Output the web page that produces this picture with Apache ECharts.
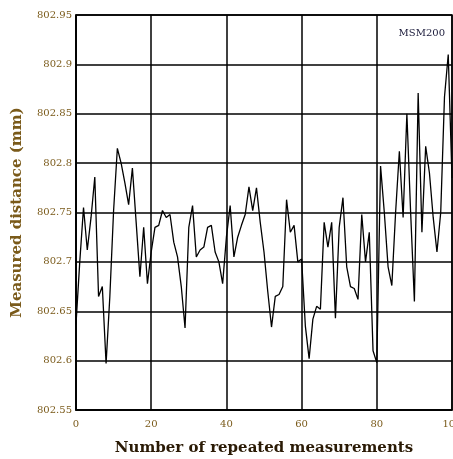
<!DOCTYPE html>
<html><head><meta charset="utf-8">
<script src="https://cdn.jsdelivr.net/npm/echarts@6/dist/echarts.min.js"></script>
<style>html,body{margin:0;padding:0;background:#fff}#c{width:453px;height:459px}</style>
</head><body><div id="c"></div>
<script>
var measurementIndex = [];
for (var k = 0; k <= 100; k++) measurementIndex.push(k);
var measuredDistance = [
802.637,802.70,802.755,802.712,802.745,802.786,802.665,802.675,802.597,802.665,
802.752,802.815,802.80,802.78,802.758,802.795,802.74,802.685,802.735,802.678,
802.71,802.735,802.737,802.752,802.745,802.748,802.72,802.705,802.675,802.633,
802.735,802.757,802.705,802.712,802.715,802.735,802.737,802.71,802.70,802.678,
802.725,802.757,802.705,802.725,802.737,802.748,802.776,802.752,802.775,802.74,
802.71,802.67,802.634,802.665,802.667,802.675,802.763,802.73,802.737,802.70,
802.703,802.635,802.602,802.642,802.655,802.652,802.74,802.715,802.74,802.643,
802.735,802.765,802.695,802.675,802.673,802.662,802.748,802.70,802.73,802.61,
802.598,802.797,802.75,802.695,802.676,802.75,802.812,802.745,802.85,802.75,
802.66,802.871,802.73,802.817,802.79,802.745,802.71,802.75,802.867,802.91,
802.785
];
var xTicks = [0, 20, 40, 60, 80, 100];
var yTicks = [802.55, 802.6, 802.65, 802.7, 802.75, 802.8, 802.85, 802.9, 802.95];
var seriesLabel = 'MSM200';

var pts = measurementIndex.map(function (x, i) { return [x, measuredDistance[i]]; });
var serif = '"DejaVu Serif", "Liberation Serif", serif';
var labelColor = '#7a5a1a';

var chart = echarts.init(document.getElementById('c'));
chart.setOption({
  animation: false,
  backgroundColor: '#fff',
  grid: { left: 76, top: 15, right: 1, bottom: 49, show: true, borderColor: '#000', borderWidth: 1.5,
    outerBoundsMode: 'none', containLabel: false },
  xAxis: {
    type: 'value', min: xTicks[0], max: xTicks[xTicks.length - 1], interval: 20,
    name: 'Number of repeated measurements', nameLocation: 'middle', nameGap: 31,
    nameTextStyle: { fontFamily: serif, fontWeight: 'bold', fontSize: 15, color: '#2a1a05' },
    axisLine: { show: true, lineStyle: { color: '#000', width: 1.5 } },
    axisTick: { show: false },
    axisLabel: { fontFamily: serif, fontSize: 10, color: labelColor, margin: 9 },
    splitLine: { show: true, lineStyle: { color: '#000', width: 1.5 } }
  },
  yAxis: {
    type: 'value', min: yTicks[0], max: yTicks[yTicks.length - 1], interval: 0.05,
    name: 'Measured distance (mm)', nameLocation: 'middle', nameGap: 51,
    nameTextStyle: { fontFamily: serif, fontWeight: 'bold', fontSize: 15, color: labelColor },
    axisLine: { show: true, lineStyle: { color: '#000', width: 1.5 } },
    axisTick: { show: false },
    axisLabel: { fontFamily: serif, fontSize: 10, color: labelColor, margin: 4,
      formatter: function (v) { return String(+v.toFixed(2)); } },
    splitLine: { show: true, lineStyle: { color: '#000', width: 1.5 } }
  },
  graphic: [{
    type: 'text', right: 8, top: 28,
    style: { text: seriesLabel, font: '10px ' + serif, fill: '#1a1a3a' }
  }],
  series: [{
    type: 'line', data: pts, symbol: 'none',
    lineStyle: { color: '#000', width: 1.3 }
  }]
});
</script></body></html>
